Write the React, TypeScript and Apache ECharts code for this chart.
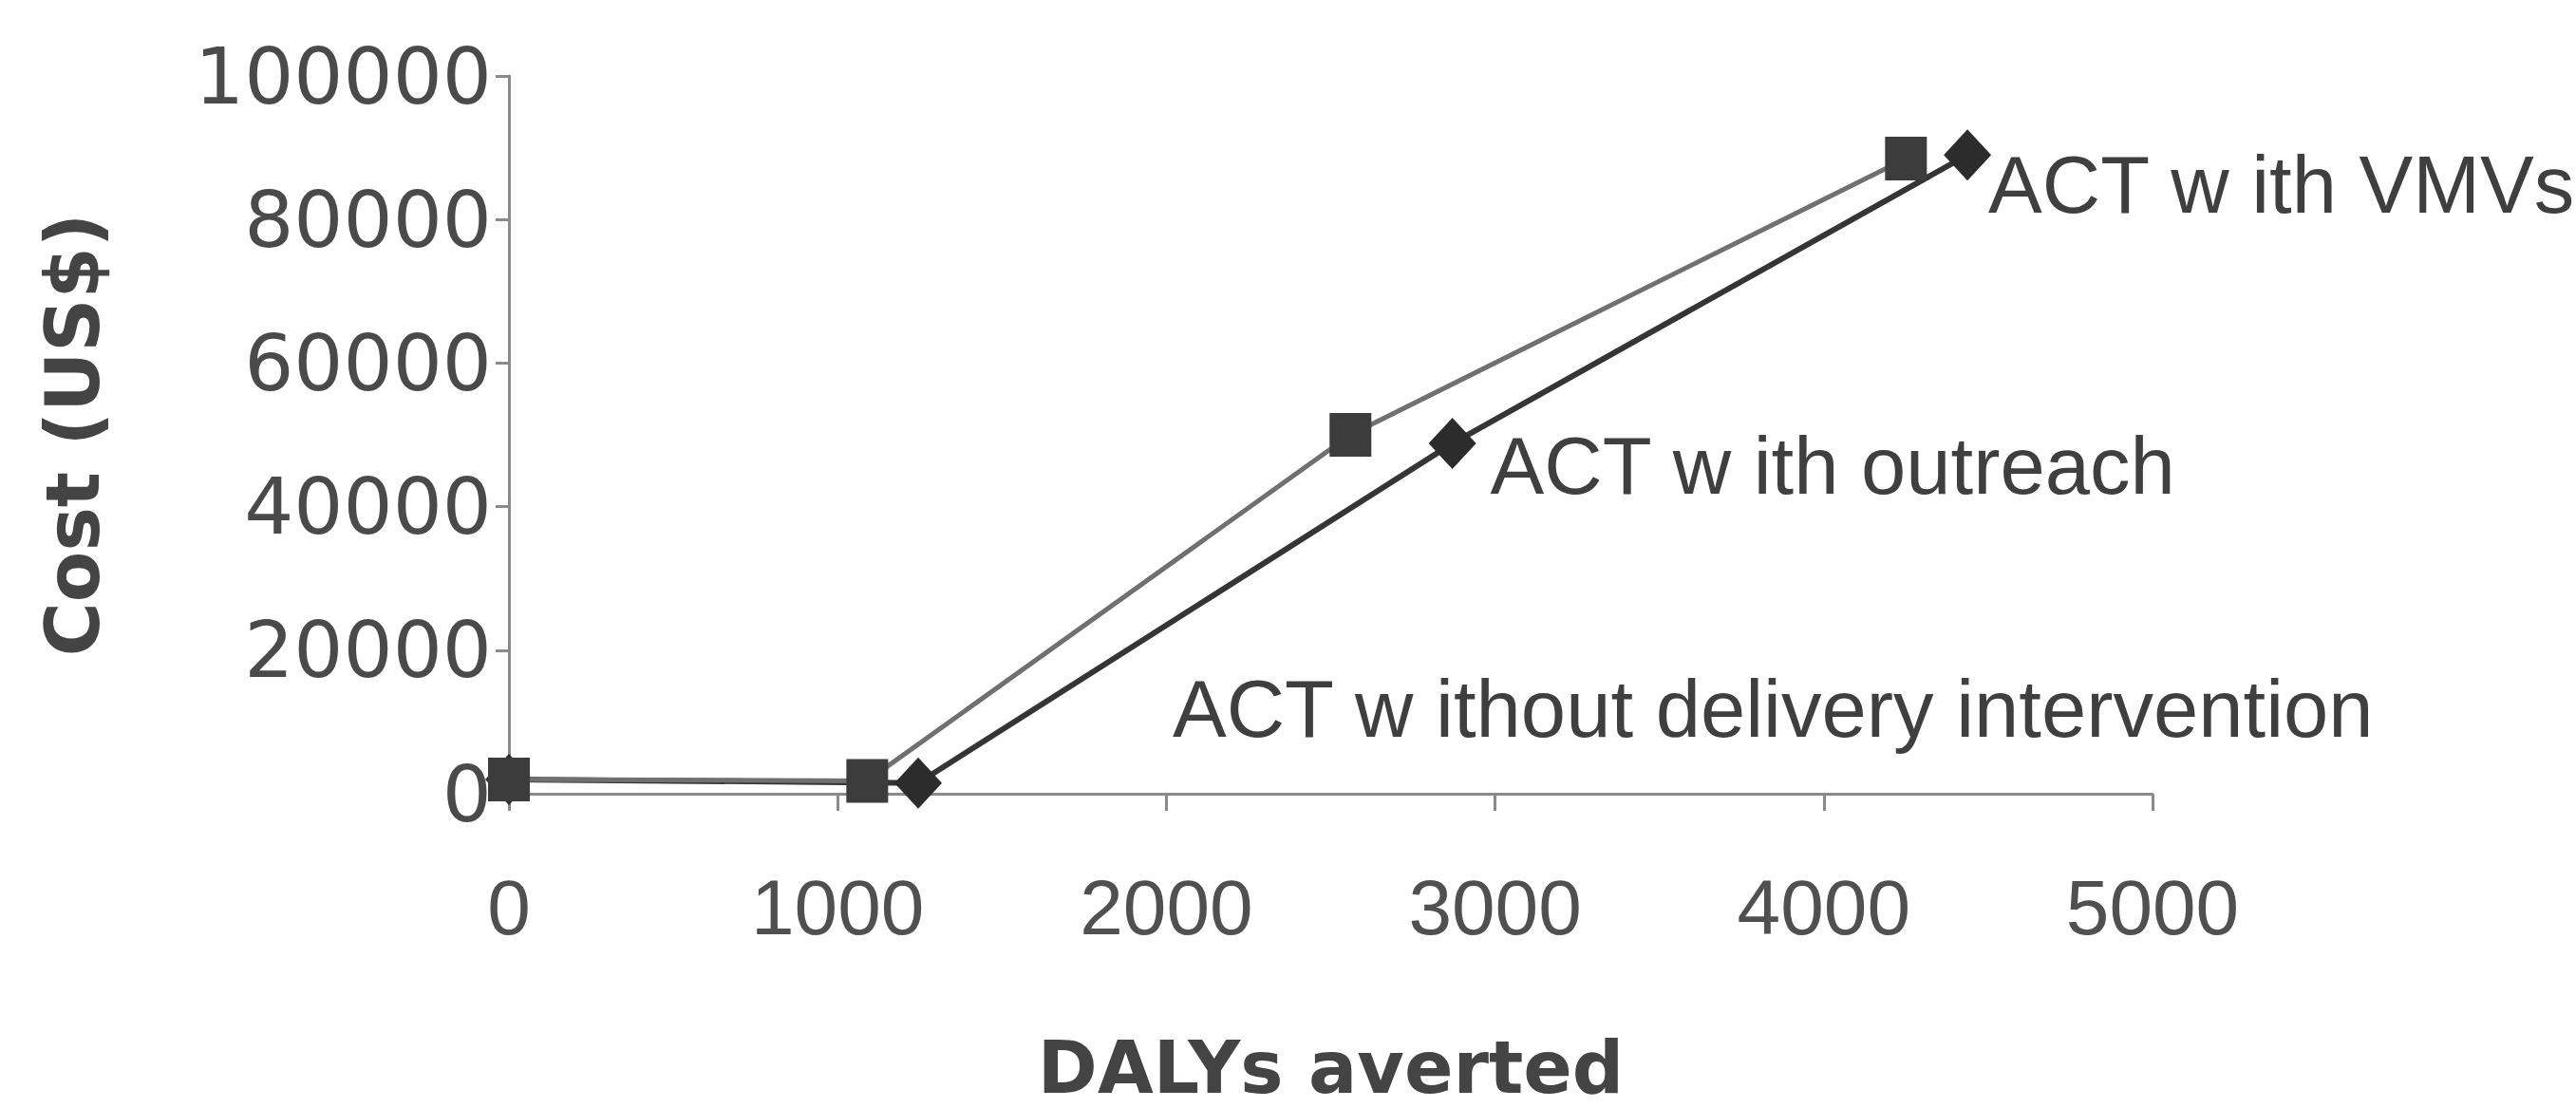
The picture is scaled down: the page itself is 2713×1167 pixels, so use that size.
import React, { useEffect, useRef } from "react";
import * as echarts from "echarts";

// DALYs averted (x) and cost in US$ (y)
const squareX = [0, 1090, 2560, 4250];
const squareY = [2000, 1800, 50000, 88500];
const diamondX = [0, 1245, 2870, 4437];
const diamondY = [2000, 1500, 48800, 89000];
const pointLabels = ["", "ACT w ithout delivery intervention", "ACT w ith outreach", "ACT w ith VMVs"];
const xTicks = { min: 0, max: 5000, interval: 1000 };
const yTicks = { min: 0, max: 100000, interval: 20000 };
const xTitle = "DALYs averted";
const yTitle = "Cost (US$)";

const labelOffsets: Record<number, [number, number]> = {
  1: [238, -78],
  2: [10, 23],
  3: [-8, 31],
};

export default function App() {
  const ref = useRef<HTMLDivElement>(null);
  useEffect(() => {
    if (!ref.current) return;
    const chart = echarts.init(ref.current, undefined, { renderer: "svg" });
    const diamondData = diamondX.map((x, i) => {
      const item: any = { value: [x, diamondY[i]] };
      if (pointLabels[i]) {
        item.label = {
          show: true,
          position: "right",
          formatter: pointLabels[i],
          offset: labelOffsets[i],
          fontFamily: "Liberation Sans",
          fontSize: 85,
          color: "#3f3f3f",
          align: "left",
          verticalAlign: "middle",
        };
      }
      return item;
    });
    const squareData = squareX.map((x, i) => [x, squareY[i]]);
    chart.setOption({
      animation: false,
      backgroundColor: "#ffffff",
      grid: { left: 536, right: 446, top: 80, bottom: 331, containLabel: false },
      xAxis: {
        type: "value",
        min: xTicks.min,
        max: xTicks.max,
        interval: xTicks.interval,
        name: xTitle,
        nameLocation: "middle",
        nameGap: 250,
        nameTextStyle: { fontFamily: "DejaVu Sans", fontWeight: "bold", fontSize: 76, color: "#444" },
        axisLine: { show: true, lineStyle: { color: "#8a8a8a", width: 3 } },
        axisTick: { show: true, inside: false, length: 18, lineStyle: { color: "#8a8a8a", width: 3 } },
        splitLine: { show: false },
        axisLabel: {
          margin: 78,
          fontFamily: "Liberation Sans",
          fontSize: 82,
          color: "#505050",
          formatter: (v: number) => String(v),
        },
      },
      yAxis: {
        type: "value",
        min: yTicks.min,
        max: yTicks.max,
        interval: yTicks.interval,
        name: yTitle,
        nameLocation: "middle",
        nameGap: 420,
        nameRotate: 90,
        nameTextStyle: { fontFamily: "DejaVu Sans", fontWeight: "bold", fontSize: 78, color: "#444" },
        axisLine: { show: true, lineStyle: { color: "#8a8a8a", width: 3 } },
        axisTick: { show: true, inside: false, length: 14, lineStyle: { color: "#8a8a8a", width: 3 } },
        splitLine: { show: false },
        axisLabel: {
          margin: 18,
          fontFamily: "DejaVu Sans",
          fontSize: 82,
          color: "#4a4a4a",
          formatter: (v: number) => String(v),
        },
      },
      series: [
        {
          type: "line",
          name: "diamond",
          data: diamondData,
          symbol: "diamond",
          symbolSize: [50, 54],
          lineStyle: { color: "#353535", width: 6 },
          itemStyle: { color: "#2c2c2c" },
          z: 2,
        },
        {
          type: "line",
          name: "square",
          data: squareData,
          symbol: "rect",
          symbolSize: [44, 46],
          lineStyle: { color: "#707070", width: 5 },
          itemStyle: { color: "#3c3c3c" },
          z: 3,
        },
      ],
    });
    return () => chart.dispose();
  }, []);
  return (
    <div
      ref={ref}
      style={{ position: "fixed", left: 0, top: 0, width: 2713, height: 1167, background: "#fff" }}
    />
  );
}
